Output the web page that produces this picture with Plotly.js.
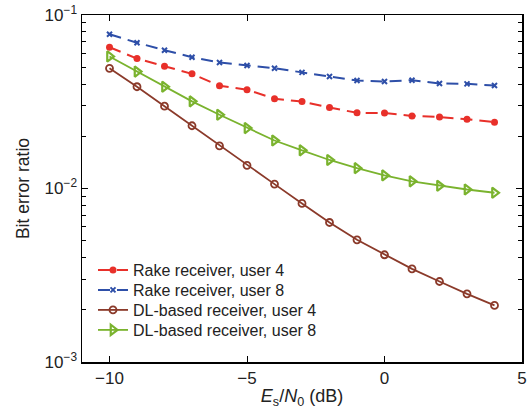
<!DOCTYPE html>
<html><head><meta charset="utf-8">
<script src="https://cdn.plot.ly/plotly-3.0.1.min.js"></script>
<style>body{margin:0;padding:0;background:#fff}#plot{width:529px;height:409px}</style>
</head><body><div id="plot"></div>
<script>
const esn0 = [-10,-9,-8,-7,-6,-5,-4,-3,-2,-1,0,1,2,3,4];
const rakeUser4 = [0.0652,0.0561,0.0507,0.0458,0.0391,0.0371,0.0329,0.0317,0.0293,0.0273,0.0272,0.0262,0.0258,0.0251,0.0241];
const rakeUser8 = [0.0775,0.0692,0.0627,0.0571,0.0532,0.0512,0.0493,0.0467,0.0442,0.0419,0.0414,0.0421,0.0403,0.0401,0.0392];
const dlUser4 = [0.0493,0.0386,0.0298,0.0230,0.0176,0.0136,0.0106,0.0082,0.00637,0.00506,0.00415,0.00344,0.00291,0.00247,0.00212];
const dlUser8 = [0.0577,0.0472,0.0386,0.0318,0.0266,0.0223,0.0189,0.0166,0.0146,0.0131,0.0119,0.0110,0.01037,0.00987,0.00945];
const names = ['Rake receiver, user 4','Rake receiver, user 8','DL-based receiver, user 4','DL-based receiver, user 8'];
const yTickVals = [0.001,0.01,0.1];
const yTickText = ['10<sup>\u22123</sup>','10<sup>\u22122</sup>','10<sup>\u22121</sup>'];
const xTickVals = [-10,-5,0,5];
const xTickText = ['\u221210','\u22125','0','5'];
const minorY = [];
[0.001,0.01].forEach(d=>{for(let k=2;k<=9;k++) minorY.push(d*k);});

const traces = [
 {x:esn0,y:rakeUser4,name:names[0],mode:'lines+markers',legend:'legend',
  line:{color:'#e8302a',width:2,dash:'12px,7px'},
  marker:{symbol:'circle',size:7,color:'#e8302a'}},
 {x:esn0,y:rakeUser8,name:names[1],mode:'lines+markers',legend:'legend2',
  line:{color:'#2e4fa8',width:2,dash:'12px,7px'},
  marker:{symbol:'x-thin',size:5,color:'#2e4fa8',line:{color:'#2e4fa8',width:2}}},
 {x:esn0,y:dlUser4,name:names[2],mode:'lines+markers',legend:'legend3',
  line:{color:'#8b3a2a',width:1.8},
  marker:{symbol:'circle-open',size:7,color:'#8b3a2a',line:{width:1.8,color:'#8b3a2a'}}},
 {x:esn0,y:dlUser8,name:names[3],mode:'lines+markers',legend:'legend4',
  line:{color:'#7ab32e',width:1.8},
  marker:{symbol:'triangle-right-open',size:9,color:'#7ab32e',line:{width:2.2,color:'#7ab32e'}}}
];

function leg(py){
  return {x:0.025,y:(362-py)/347,xanchor:'left',yanchor:'middle',bgcolor:'rgba(0,0,0,0)',
    font:{size:16,color:'#222'},itemwidth:30};
}

const layout = {
 width:529,height:409,
 margin:{l:82,r:7,t:15,b:47},
 paper_bgcolor:'#fff',plot_bgcolor:'#fff',
 font:{family:'Liberation Sans, Arial, sans-serif',size:16,color:'#222'},
 showlegend:true,
 legend:leg(270),legend2:leg(290),legend3:leg(310),legend4:leg(330),
 xaxis:{range:[-11,5],showline:true,linecolor:'#000',linewidth:1.5,mirror:'ticks',
   ticks:'inside',ticklen:6,tickcolor:'#000',tickvals:xTickVals,ticktext:xTickText,
   tickfont:{size:17},showgrid:false,zeroline:false,
   title:{text:'<i>E</i><sub>s</sub>/<i>N</i><sub>0</sub> (dB)',font:{size:18},standoff:4}},
 yaxis:{type:'log',range:[-3,-1],showline:true,linecolor:'#000',linewidth:1.5,mirror:'ticks',
   ticks:'inside',ticklen:6,tickcolor:'#000',tickvals:yTickVals,ticktext:yTickText,
   tickfont:{size:17},
   minor:{tickvals:minorY,ticks:'inside',ticklen:4,tickcolor:'#000'},
   showgrid:false,zeroline:false,
   title:{text:'Bit error ratio',font:{size:17.5},standoff:10}}
};
Plotly.newPlot('plot',traces,layout,{staticPlot:true,displayModeBar:false});
</script></body></html>
